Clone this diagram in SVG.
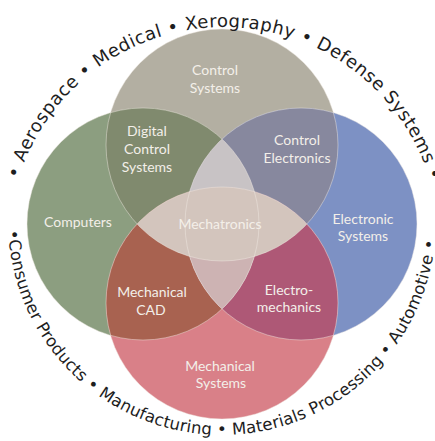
<svg xmlns="http://www.w3.org/2000/svg" width="435" height="441" viewBox="0 0 435 441">
<style>
.lbl{font-family:Lato,"Open Sans","Liberation Sans",sans-serif;font-size:14px;fill:#f3efe9;text-anchor:middle}
.ring{font-family:"DejaVu Sans","Liberation Sans",sans-serif;fill:#1e1e1e}
.edge{fill:none;stroke:#f2ebe4;stroke-width:1;stroke-opacity:0.45}
</style>
<defs>
<clipPath id="cT"><circle cx="222" cy="145" r="116"/></clipPath>
<clipPath id="cL"><circle cx="143" cy="224" r="116"/></clipPath>
<clipPath id="cR"><circle cx="301" cy="224" r="116"/></clipPath>
<clipPath id="cB"><circle cx="222" cy="303" r="116"/></clipPath>
<path id="arcTop" d="M 9,242 A 215,215 0 0 1 439,242"/>
<path id="arcBot" d="M 8,221 A 214,214 0 0 0 436,221"/>
</defs>
<rect width="435" height="441" fill="#ffffff"/>

<g id="control-systems">
<circle cx="222" cy="145" r="116" fill="#b3afa2"/>
<text class="lbl" x="215" y="75">Control</text>
<text class="lbl" x="215" y="93">Systems</text>
</g>
<g id="computers">
<circle cx="143" cy="224" r="116" fill="#8c9e80"/>
<text class="lbl" x="78" y="227">Computers</text>
</g>
<g id="electronic-systems">
<circle cx="301" cy="224" r="116" fill="#7d91c4"/>
<text class="lbl" x="363" y="224">Electronic</text>
<text class="lbl" x="363" y="241">Systems</text>
</g>
<g id="mechanical-systems">
<circle cx="222" cy="303" r="116" fill="#d98088"/>
<text class="lbl" x="220" y="371">Mechanical</text>
<text class="lbl" x="221" y="388">Systems</text>
</g>
<g id="digital-control-systems">
<circle cx="143" cy="224" r="116" fill="#808a6e" clip-path="url(#cT)"/>
<text class="lbl" x="147" y="136">Digital</text>
<text class="lbl" x="147" y="154">Control</text>
<text class="lbl" x="147" y="172">Systems</text>
</g>
<g id="control-electronics">
<circle cx="301" cy="224" r="116" fill="#87889e" clip-path="url(#cT)"/>
<text class="lbl" x="297" y="145">Control</text>
<text class="lbl" x="297" y="163">Electronics</text>
</g>
<g id="mechanical-cad">
<circle cx="143" cy="224" r="116" fill="#a86250" clip-path="url(#cB)"/>
<text class="lbl" x="152" y="297">Mechanical</text>
<text class="lbl" x="151" y="315">CAD</text>
</g>
<g id="electromechanics">
<circle cx="301" cy="224" r="116" fill="#ae5876" clip-path="url(#cB)"/>
<text class="lbl" x="289" y="295">Electro-</text>
<text class="lbl" x="289" y="312">mechanics</text>
</g>
<g id="center-overlap">
<circle cx="301" cy="224" r="116" fill="#c8c3c5" clip-path="url(#cL)"/>
<g clip-path="url(#cL)"><circle cx="301" cy="224" r="116" fill="#cdb3b3" clip-path="url(#cB)"/></g>
</g>
<g id="mechatronics">
<circle cx="222" cy="303" r="116" fill="#d3c5bd" clip-path="url(#cT)"/>
</g>
<g id="outlines">
<circle class="edge" cx="222" cy="145" r="116"/>
<circle class="edge" cx="143" cy="224" r="116"/>
<circle class="edge" cx="301" cy="224" r="116"/>
<circle class="edge" cx="222" cy="303" r="116"/>
</g>
<g id="mechatronics-label">
<text class="lbl" x="220" y="229">Mechatronics</text>
</g>
<g id="connectors"/>
<g id="applications">
<text class="ring" font-size="18" letter-spacing="0.5"><textPath href="#arcTop" startOffset="50.15%" text-anchor="middle">• Aerospace • Medical • Xerography • Defense Systems •</textPath></text>
<text class="ring" font-size="16.5" letter-spacing="0.18"><textPath href="#arcBot" startOffset="49.25%" text-anchor="middle">•Consumer Products • Manufacturing • Materials Processing • Automotive •</textPath></text>
</g>
</svg>
